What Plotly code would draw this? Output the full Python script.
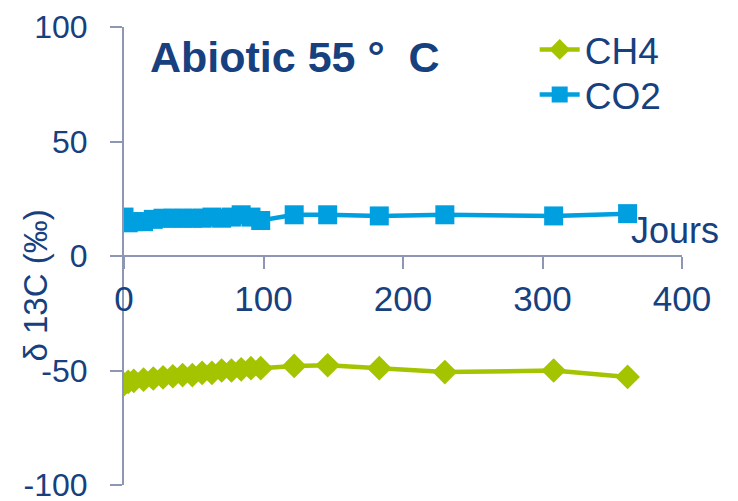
import plotly.graph_objects as go

days_ch4 = [0, 3, 7, 14, 21, 28, 35, 42, 49, 56, 63, 70, 77, 84, 91, 98, 122, 146, 183, 230, 308, 361]
ch4 = [-56, -55, -54.5, -54, -53.5, -53, -52.5, -52, -52, -51, -51, -50, -50, -49.5, -49, -49, -48, -47.7, -49, -50.7, -50, -52.8]

days_co2 = [0, 3, 7, 14, 21, 28, 35, 42, 49, 56, 63, 70, 77, 84, 91, 98, 122, 146, 183, 230, 308, 361]
co2 = [17, 14.5, 15, 15, 16, 16.5, 16.5, 16.5, 16.5, 16.5, 17, 16.5, 17, 18, 17, 15.5, 18, 18, 17.5, 18, 17.5, 18.5]

x_ticks = [0, 100, 200, 300, 400]
y_ticks = [-100, -50, 0, 50, 100]
y_tick_labels = ["-100", "-50", "0", "50", "100"]

green = "#A5C400"
blue = "#009FDF"
text_col = "#17407E"
axis_col = "#8D96B2"
FONT = "Liberation Sans, Arial, sans-serif"

fig = go.Figure()
fig.add_trace(go.Scatter(x=days_ch4, y=ch4, name="CH4", mode="lines+markers",
                         line=dict(color=green, width=4.5), legend="legend",
                         marker=dict(symbol="diamond", size=19, color=green)))
fig.add_trace(go.Scatter(x=days_co2, y=co2, name="CO2", mode="lines+markers",
                         line=dict(color=blue, width=4.5), legend="legend2",
                         marker=dict(symbol="square", size=19, color=blue)))

leg_common = dict(xanchor="left", yanchor="middle", bgcolor="rgba(0,0,0,0)",
                  font=dict(size=37, color=text_col), itemwidth=40)

fig.update_layout(
    width=738, height=501,
    margin=dict(l=116, r=64, t=18, b=24),
    paper_bgcolor="white", plot_bgcolor="white",
    font=dict(family=FONT, color=text_col, size=34),
    showlegend=True,
    legend=dict(x=0.736, y=0.948, **leg_common),
    legend2=dict(x=0.736, y=0.850, **leg_common),
    xaxis=dict(range=[0, 400], tickvals=x_ticks, showgrid=False, zeroline=False,
               showline=True, linecolor=axis_col, linewidth=2, automargin=False,
               ticks="outside", ticklen=12, tickwidth=2, tickcolor=axis_col,
               anchor="free", position=0.5, tickfont=dict(size=35, color=text_col),
               ticklabelstandoff=0, ticklabeloverflow="allow"),
    yaxis=dict(range=[-100, 100], tickvals=y_ticks, ticktext=y_tick_labels,
               showgrid=False, zeroline=False, automargin=False,
               showline=True, linecolor=axis_col, linewidth=2,
               ticks="outside", ticklen=12, tickwidth=2, tickcolor=axis_col,
               tickfont=dict(size=32, color=text_col), ticklabelstandoff=16,
               ticklabeloverflow="allow"),
    annotations=[
        dict(text="<b>Abiotic 55 °  C</b>", x=0.043, y=0.935, xref="paper", yref="paper",
             xanchor="left", yanchor="middle",
             showarrow=False, font=dict(size=43, color=text_col)),
        dict(text="Jours", x=0.987, y=0.555, xref="paper", yref="paper",
             xanchor="center", yanchor="middle", showarrow=False,
             font=dict(size=36, color=text_col)),
        dict(text="δ 13C (‰)", x=-0.158, y=0.435, xref="paper", yref="paper",
             xanchor="center", yanchor="middle", textangle=-90, showarrow=False,
             font=dict(size=33, color=text_col)),
    ],
)

fig.write_html("out.html")
